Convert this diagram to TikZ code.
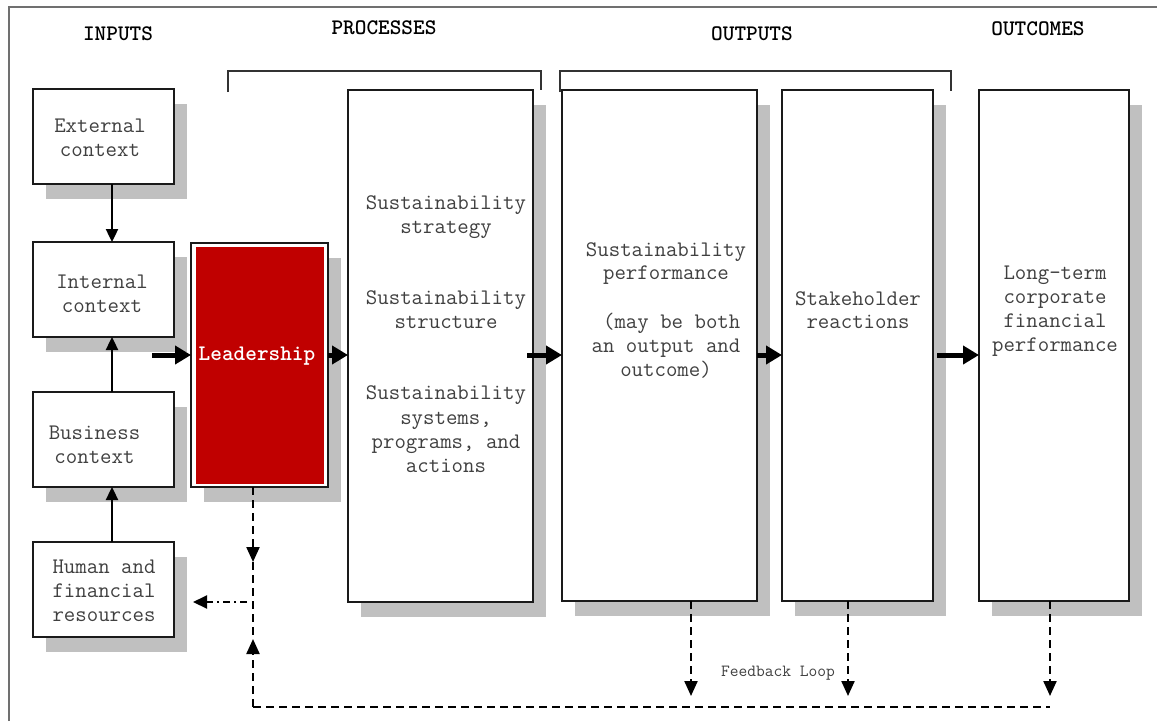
\documentclass[tikz,border=0pt]{standalone}
\usepackage{fontspec}
\usetikzlibrary{arrows.meta,shadows}
\definecolor{shadowgray}{HTML}{C0C0C0}
\definecolor{leadred}{HTML}{C00000}
\definecolor{textgray}{HTML}{404040}
\definecolor{framegray}{HTML}{707070}
\definecolor{edge}{HTML}{1A1A1A}
\definecolor{bracketgray}{HTML}{333333}

\begin{document}
\begin{tikzpicture}[x=1pt,y=-1pt,
  panel/.style={draw=edge, line width=1.6pt, fill=white, inner sep=0pt, outer sep=0pt,
    general shadow={fill=shadowgray, shadow xshift=13pt, shadow yshift=-15pt}},
  leadbox/.style={panel,
    path picture={\fill[leadred]
      ([shift={(4.5pt,-3.5pt)}]path picture bounding box.north west) rectangle
      ([shift={(-4pt,3.5pt)}]path picture bounding box.south east);}},
  txt/.style={font=\ttfamily\fontsize{22.2}{23.8}\selectfont, text=textgray, align=center,
    inner sep=0pt, anchor=north},
  head/.style={font=\ttfamily\bfseries\fontsize{22.2}{23.8}\selectfont, text=black,
    inner sep=0pt, anchor=north},
  flowarrow/.style={draw=black, line width=5pt, -{Triangle[length=16pt,width=18pt]}},
  solidarrow/.style={draw=black, line width=2.4pt, -{Triangle[length=13pt,width=12pt]}},
  dashline/.style={draw=black, line width=2.2pt, dash pattern=on 8pt off 5pt},
  dasharrow/.style={dashline, -{Triangle[length=15pt,width=13pt]}},
  dashdotarrow/.style={draw=black, line width=2pt, dash pattern=on 7pt off 4pt on 2pt off 4pt,
    -{Triangle[length=14pt,width=13pt]}},
  bracket/.style={draw=bracketgray, line width=1.8pt},
]
\useasboundingbox (0,0) rectangle (1157,721);
\fill[white] (0,0) rectangle (1157,721);

% frame
\draw[framegray, line width=1.3pt] (9,721) -- (9,7) -- (1157,7);

% column headings
\node[head] (hIn)   at (118,26)  {INPUTS};
\node[head] (hProc) at (384,20)  {PROCESSES};
\node[head] (hOut)  at (752,26)  {OUTPUTS};
\node[head] (hOc)   at (1038,21) {OUTCOMES};

% brackets
\draw[bracket] (228,92) -- (228,71) -- (541,71) -- (541,90);
\draw[bracket] (560,92) -- (560,71) -- (951,71) -- (951,91);

% input boxes
\node[panel, minimum width=141pt, minimum height=95pt] (ext) at (103.5,136.5) {};
\node[panel, minimum width=141pt, minimum height=95pt] (int) at (103.5,289.5) {};
\node[panel, minimum width=141pt, minimum height=95pt] (bus) at (103.5,439.5) {};
\node[panel, minimum width=141pt, minimum height=95pt] (hum) at (103.5,589.5) {};

% leadership
\node[leadbox, minimum width=137pt, minimum height=244pt] (lead) at (259.5,365) {};

% process, output and outcome columns
\node[panel, minimum width=185pt, minimum height=512pt] (proc)  at (440.5,346) {};
\node[panel, minimum width=195pt, minimum height=511pt] (perf)  at (659.5,345.5) {};
\node[panel, minimum width=151pt, minimum height=511pt] (stake) at (857.5,345.5) {};
\node[panel, minimum width=150pt, minimum height=511pt] (long)  at (1054,345.5) {};

% box texts
\node[txt] (tExt) at (100,119) {External\\context};
\node[txt] (tInt) at (102,275) {Internal\\context};
\node[txt] (tBus) at (94.5,426) {Business\\context};
\node[txt] (tHum) at (104,560) {Human and\\financial\\resources};
\node[head, text=white] (tLead) at (257,346.5) {Leadership};
\node[txt, font=\ttfamily\fontsize{22.2}{24.2}\selectfont] (tProc) at (446,195)
  {Sustainability\\strategy\\[47pt]Sustainability\\structure\\[47pt]Sustainability\\systems,\\programs, and\\actions};
\node[txt] (tPerf) at (666,242)
  {Sustainability\\performance\\[25pt]~(may be both\\an output and\\outcome)};
\node[txt] (tStake) at (858,291) {Stakeholder\\reactions};
\node[txt] (tLong) at (1055,266) {Long-term\\corporate\\financial\\performance};

% reference points for connectors
\coordinate (flow) at (0,355);
\coordinate (inStart) at (152,355);
\coordinate (ld1) at (253,562);
\coordinate (ld2) at (253,639);
\coordinate (fbL) at (253,707);
\coordinate (fbR) at (1050,707);
\coordinate (ddA) at (247,602);
\coordinate (ddB) at (193,602);
\coordinate (fp) at (691,696);
\coordinate (fs) at (848,696);
\coordinate (fl) at (1050,696);

% solid connectors among inputs
\draw[solidarrow] ([xshift=8.5pt]ext.south) -- ([xshift=8.5pt]int.north);
\draw[solidarrow] ([xshift=8.5pt]bus.north) -- ([xshift=8.5pt]int.south);
\draw[solidarrow] ([xshift=8.5pt]hum.north) -- ([xshift=8.5pt]bus.south);

% main flow
\draw[flowarrow] (inStart) -- (lead.west |- flow);
\draw[flowarrow] (lead.east |- flow) -- (proc.west |- flow);
\draw[flowarrow] ([xshift=-6pt]proc.east |- flow) -- (perf.west |- flow);
\draw[flowarrow] (perf.east |- flow) -- (stake.west |- flow);
\draw[flowarrow] ([xshift=4pt]stake.east |- flow) -- (long.west |- flow);

% feedback loop
\draw[dasharrow] (lead.south -| ld1) -- (ld1);
\draw[dashline] (ld1) -- (ld2);
\draw[dasharrow] (fbL) -- (ld2);
\draw[dashline] (fbL) -- (fbR);
\draw[dashdotarrow] (ddA) -- (ddB);
\draw[dasharrow] (perf.south -| fp) -- (fp);
\draw[dasharrow] (stake.south -| fs) -- (fs);
\draw[dasharrow] (long.south -| fl) -- (fl);
\node[font=\ttfamily\fontsize{17}{20}\selectfont, text=textgray, inner sep=0pt, anchor=north]
  (fbLabel) at (778,665.5) {Feedback Loop};
\end{tikzpicture}
\end{document}
